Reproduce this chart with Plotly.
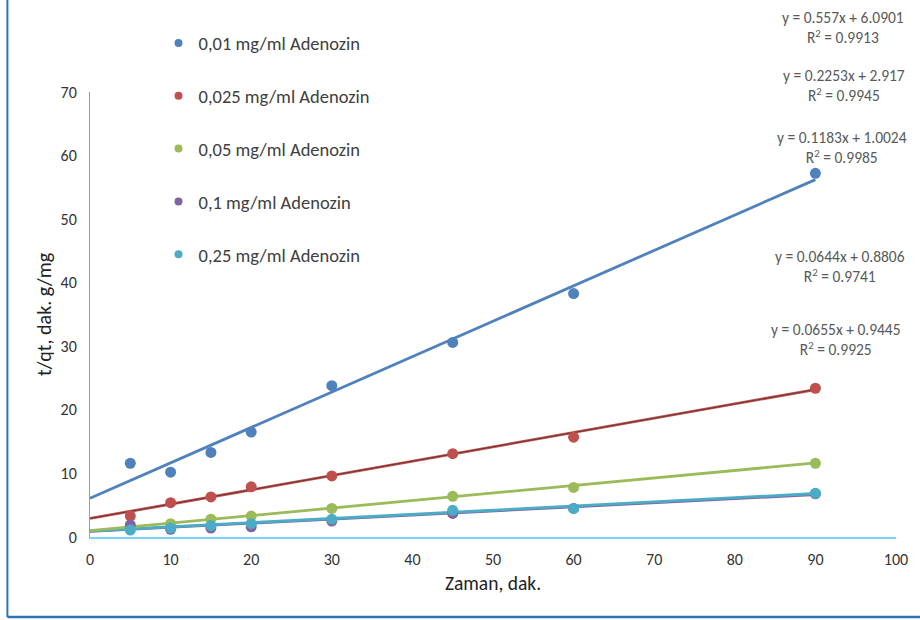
import plotly.graph_objects as go

# ---- data ----
x_time = [5, 10, 15, 20, 30, 45, 60, 90]
names = ["0,01 mg/ml Adenozin", "0,025 mg/ml Adenozin", "0,05 mg/ml Adenozin",
         "0,1 mg/ml Adenozin", "0,25 mg/ml Adenozin"]
y_001 = [11.6, 10.2, 13.3, 16.5, 23.8, 30.6, 38.3, 57.2]
y_0025 = [3.3, 5.4, 6.3, 7.9, 9.6, 13.1, 15.7, 23.4]
y_005 = [1.5, 2.1, 2.8, 3.3, 4.5, 6.4, 7.8, 11.6]
y_01 = [1.9, 1.2, 1.4, 1.6, 2.5, 3.7, 4.5, 6.8]
y_025 = [1.1, 1.4, 1.8, 2.1, 2.8, 4.2, 4.5, 6.9]
slopes = [0.557, 0.2253, 0.1183, 0.0644, 0.0655]
intercepts = [6.0901, 2.917, 1.0024, 0.8806, 0.9445]
r2 = ["0.9913", "0.9945", "0.9985", "0.9741", "0.9925"]
trend_x = [0, 90]
x_ticks = [0, 10, 20, 30, 40, 50, 60, 70, 80, 90, 100]
y_ticks = [0, 10, 20, 30, 40, 50, 60, 70]

# layout positions (paper coords) of the equation labels
eq_px = [0.9346, 0.936, 0.933, 0.930, 0.926]
eq_py = [1.145, 1.0157, 0.875, 0.608, 0.444]

colors = ["#4F81BD", "#C0504D", "#9BBB59", "#8064A2", "#4BACC6"]
series = [y_001, y_0025, y_005, y_01, y_025]

FONT = "Carlito, 'Liberation Sans Narrow', Roboto, sans-serif"

fig = go.Figure()

# trend lines (drawn from slopes/intercepts), purple under cyan
for i in [3, 4, 2, 1, 0]:
    ty = [slopes[i] * t + intercepts[i] for t in trend_x]
    fig.add_trace(go.Scatter(x=trend_x, y=ty, mode="lines",
                             line=dict(color=colors[i], width=2.8),
                             showlegend=False, hoverinfo="skip"))
    if i == 1:
        fig.add_trace(go.Scatter(x=trend_x, y=ty, mode="lines",
                                 line=dict(color="rgba(30,30,30,0.75)", width=0.7),
                                 showlegend=False, hoverinfo="skip"))

# markers
for i in range(5):
    fig.add_trace(go.Scatter(x=x_time, y=series[i], mode="markers",
                             marker=dict(color=colors[i], size=11),
                             showlegend=False, cliponaxis=False))

# legend-only entries
for i in range(5):
    fig.add_trace(go.Scatter(x=[None], y=[None], mode="markers", name=names[i],
                             marker=dict(color=colors[i], size=8),
                             legendgroup=f"g{i}", showlegend=True))

# equations
for i in range(5):
    fig.add_annotation(x=eq_px[i], y=eq_py[i], xref="paper", yref="paper",
                       text=f"y = {slopes[i]}x + {intercepts[i]}<br>R<sup>2</sup> = {r2[i]}",
                       showarrow=False, align="center", xanchor="center", yanchor="middle",
                       font=dict(family=FONT, size=15.5, color="#595959"))

# outer frame (left & bottom visible)
fig.add_shape(type="line", xref="paper", yref="paper",
              x0=-0.1025, x1=-0.1025, y0=-0.1798, y1=1.21,
              line=dict(color="#2E75B6", width=2))
fig.add_shape(type="line", xref="paper", yref="paper",
              x0=-0.1025, x1=1.03, y0=-0.1798, y1=-0.1798,
              line=dict(color="#2E75B6", width=2.5))

fig.update_layout(
    width=920, height=620,
    margin=dict(l=90, r=20, t=92, b=83),
    paper_bgcolor="white", plot_bgcolor="white",
    font=dict(family=FONT, size=16, color="#333333"),
    legend=dict(x=0.085, y=1.152, xanchor="left", yanchor="top",
                font=dict(family=FONT, size=18.5, color="#404040"),
                tracegroupgap=25.8, itemwidth=30, bgcolor="rgba(0,0,0,0)"),
    xaxis=dict(range=[0, 100], tickvals=x_ticks, showgrid=False, zeroline=False,
               showline=True, linecolor="#7DD3F3", linewidth=2,
               ticks="", ticklabelstandoff=7,
               title=dict(text="Zaman, dak.", font=dict(size=19.5, color="#222222"), standoff=8)),
    yaxis=dict(range=[0, 70], tickvals=y_ticks, showgrid=False, zeroline=False,
               showline=True, linecolor="#4FB4E0", linewidth=1,
               ticks="", ticklabelstandoff=9,
               title=dict(text="t/qt, dak. g/mg", font=dict(size=20, color="#222222"), standoff=3)),
)

fig.write_html("out.html", post_script="document.body.style.margin='0';",
               config={"displayModeBar": False})
